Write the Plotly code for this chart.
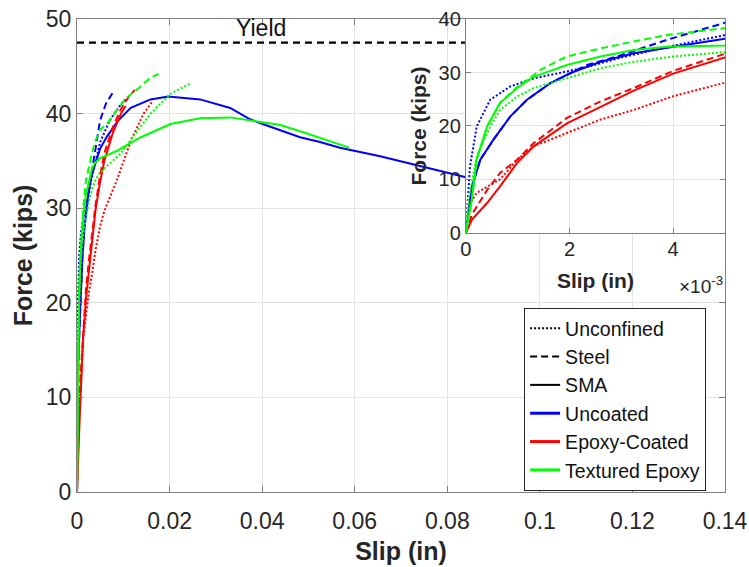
import plotly.graph_objects as go

# ---------------- data (slip in inches, force in kips) ----------------
YIELD_FORCE = 47.5
MAIN_X_RANGE = [0, 0.14]
MAIN_Y_RANGE = [0, 50]
INSET_X_RANGE = [0, 0.005]
INSET_Y_RANGE = [0, 40]
MAIN_X_TICKS = [0, 0.02, 0.04, 0.06, 0.08, 0.1, 0.12, 0.14]
MAIN_Y_TICKS = [0, 10, 20, 30, 40, 50]
INSET_X_TICKS = [0, 0.002, 0.004]
INSET_X_TICKTEXT = ["0", "2", "4"]
INSET_Y_TICKS = [0, 10, 20, 30, 40]

# Uncoated bars (blue)
unc_unconf_x = [0, 0.00008, 0.00021, 0.00047, 0.00086, 0.00131, 0.00195, 0.0024, 0.003, 0.004, 0.005, 0.0072, 0.0095, 0.0105]
unc_unconf_f = [0, 12.4, 19.9, 24.9, 27.4, 28.9, 30.2, 31.2, 32.8, 35.0, 37.0, 39.4, 41.0, 41.5]

unc_steel_x = [0, 0.00012, 0.00028, 0.00053, 0.00086, 0.00118, 0.00163, 0.00202, 0.00234, 0.00292, 0.00388, 0.005, 0.0062, 0.0077]
unc_steel_f = [0, 8.7, 13.7, 17.4, 21.8, 24.9, 28.0, 29.9, 31.4, 33.0, 36.1, 39.3, 41.0, 42.2]

unc_sma_x = [0, 0.00012, 0.00028, 0.00053, 0.00086, 0.00118, 0.00163, 0.00202, 0.0026, 0.00324, 0.00401, 0.005,
             0.0065, 0.0088, 0.0116, 0.0159, 0.0197, 0.0266, 0.0331, 0.0374, 0.0395, 0.0439, 0.0482, 0.0525,
             0.0568, 0.0655, 0.0741, 0.0838, 0.09]
unc_sma_f = [0, 8.7, 13.7, 17.4, 21.8, 24.9, 28.0, 29.9, 32.0, 33.6, 34.8, 36.3,
             37.6, 39.2, 40.6, 41.5, 41.8, 41.5, 40.6, 39.4, 39.0, 38.2, 37.5, 37.0,
             36.4, 35.5, 34.5, 33.3, 32.9]

# Epoxy-coated bars (red)
epx_unconf_x = [0, 0.00005, 0.00021, 0.00066, 0.00099, 0.00131, 0.00195, 0.0026, 0.00324, 0.00401, 0.005, 0.0059, 0.0088, 0.0116, 0.0144, 0.0159, 0.0163]
epx_unconf_f = [0, 5.0, 7.5, 10.0, 13.7, 16.2, 18.7, 21.2, 23.0, 25.6, 28.1, 29.7, 33.2, 37.1, 40.0, 41.0, 41.3]

epx_steel_x = [0, 0.00012, 0.00041, 0.00066, 0.00099, 0.00131, 0.00195, 0.0026, 0.00324, 0.004, 0.005, 0.0059, 0.0077, 0.0095, 0.0112, 0.0125]
epx_steel_f = [0, 3.5, 8.0, 11.2, 13.7, 16.8, 21.5, 24.6, 27.1, 30.3, 33.5, 35.8, 38.5, 40.5, 41.8, 42.5]

epx_sma_x = [0, 0.00012, 0.00041, 0.00066, 0.00099, 0.00131, 0.00195, 0.0026, 0.00324, 0.004, 0.005, 0.0059, 0.0077, 0.0095, 0.0105]
epx_sma_f = [0, 2.5, 5.6, 8.7, 13.1, 16.2, 20.5, 23.6, 26.6, 29.8, 32.8, 35.0, 37.9, 40.0, 40.8]

# Textured epoxy bars (green)
tex_unconf_x = [0, 0.00005, 0.00021, 0.00047, 0.00066, 0.00099, 0.00131, 0.00195, 0.0026, 0.00324, 0.00401, 0.005, 0.0065, 0.0095, 0.0131, 0.0159, 0.0202, 0.0245]
tex_unconf_f = [0, 6.2, 14.3, 19.9, 23.0, 25.5, 27.1, 28.9, 30.8, 32.0, 33.0, 33.8, 34.5, 35.8, 38.2, 40.0, 42.1, 43.2]

tex_steel_x = [0, 0.000116, 0.00021, 0.00041, 0.00066, 0.00099, 0.00131, 0.00144, 0.00195, 0.0026, 0.00324, 0.00388, 0.005, 0.0066, 0.0105, 0.0131, 0.0159, 0.0176]
tex_steel_f = [0, 6.2, 13.7, 19.9, 24.3, 27.3, 29.5, 30.5, 33.0, 34.5, 35.8, 37.0, 38.3, 39.0, 41.6, 42.6, 43.8, 44.2]

tex_sma_x = [0, 0.000116, 0.00021, 0.00041, 0.00066, 0.00099, 0.00131, 0.00195, 0.0026, 0.00324, 0.00388, 0.005,
             0.0088, 0.0138, 0.0202, 0.0266, 0.0331, 0.0374, 0.0439, 0.0497, 0.0588]
tex_sma_f = [0, 6.2, 13.7, 19.9, 24.3, 27.1, 29.2, 31.4, 33.0, 34.2, 34.8, 35.3,
             36.1, 37.5, 38.9, 39.5, 39.6, 39.3, 38.8, 37.9, 36.4]

CONF_NAMES = ["Unconfined", "Steel", "SMA"]
BAR_NAMES = ["Uncoated", "Epoxy-Coated", "Textured Epoxy"]

# ---------------- styles ----------------
FONT = "Liberation Sans, Arial, Helvetica, sans-serif"
TXT = "#262626"
AX = "#808080"
GRID = "#e3e3e3"
BAR_COLORS = {"Uncoated": "#0000ff", "Epoxy-Coated": "#ff0000", "Textured Epoxy": "#00ff00"}
DASHES = {"Unconfined": "2px,2px", "Steel": "7px,4px", "SMA": "solid"}
LW = 2

series = [
    ("Uncoated", "Unconfined", unc_unconf_x, unc_unconf_f),
    ("Uncoated", "Steel", unc_steel_x, unc_steel_f),
    ("Uncoated", "SMA", unc_sma_x, unc_sma_f),
    ("Epoxy-Coated", "Unconfined", epx_unconf_x, epx_unconf_f),
    ("Epoxy-Coated", "Steel", epx_steel_x, epx_steel_f),
    ("Epoxy-Coated", "SMA", epx_sma_x, epx_sma_f),
    ("Textured Epoxy", "Unconfined", tex_unconf_x, tex_unconf_f),
    ("Textured Epoxy", "Steel", tex_steel_x, tex_steel_f),
    ("Textured Epoxy", "SMA", tex_sma_x, tex_sma_f),
]

fig = go.Figure()

# yield line (main axes)
fig.add_trace(go.Scatter(x=MAIN_X_RANGE, y=[YIELD_FORCE, YIELD_FORCE], mode="lines",
                         line=dict(color="black", width=2.2, dash="7px,5px"),
                         showlegend=False, hoverinfo="skip", xaxis="x", yaxis="y"))

# data in main axes and inset
for bar, conf, xs, fs in series:
    for xa, ya in (("x", "y"), ("x2", "y2")):
        fig.add_trace(go.Scatter(x=xs, y=fs, mode="lines",
                                 line=dict(color=BAR_COLORS[bar], width=LW, dash=DASHES[conf]),
                                 name=f"{bar} {conf}", showlegend=False, xaxis=xa, yaxis=ya))

# legend entries
for conf in CONF_NAMES:
    fig.add_trace(go.Scatter(x=[None], y=[None], mode="lines", name=conf,
                             line=dict(color="black", width=LW, dash=DASHES[conf]),
                             xaxis="x", yaxis="y"))
for bar in BAR_NAMES:
    fig.add_trace(go.Scatter(x=[None], y=[None], mode="lines", name=bar,
                             line=dict(color=BAR_COLORS[bar], width=3),
                             xaxis="x", yaxis="y"))

common_axis = dict(showline=True, linecolor=AX, linewidth=1, mirror="ticks", ticks="inside",
                   tickcolor=AX, showgrid=True, gridcolor=GRID, gridwidth=1, zeroline=False,
                   automargin=False, ticklabeloverflow="allow")

fig.update_layout(
    template="none",
    width=749, height=567,
    margin=dict(l=77, r=24, t=19, b=75, autoexpand=False),
    paper_bgcolor="white", plot_bgcolor="white",
    font=dict(family=FONT, color=TXT),
    xaxis=dict(domain=[0, 1], range=MAIN_X_RANGE, tickvals=MAIN_X_TICKS, ticklen=6,
               tickfont=dict(size=23, color=TXT), ticklabelstandoff=8,
               title=dict(text="<b>Slip (in)</b>", font=dict(size=25, color=TXT), standoff=9),
               anchor="y", **common_axis),
    yaxis=dict(domain=[0, 1], range=MAIN_Y_RANGE, tickvals=MAIN_Y_TICKS, ticklen=6,
               tickfont=dict(size=23, color=TXT), ticklabelstandoff=0,
               title=dict(text="<b>Force (kips)</b>", font=dict(size=25, color=TXT), standoff=6),
               anchor="x", **common_axis),
    xaxis2=dict(domain=[0.6, 1.0], range=INSET_X_RANGE, tickvals=INSET_X_TICKS, ticktext=INSET_X_TICKTEXT,
                ticklen=5, tickfont=dict(size=20, color=TXT), ticklabelstandoff=-2,
                title=dict(text="<b>Slip (in)</b>", font=dict(size=21, color=TXT), standoff=14),
                anchor="y2", **common_axis),
    yaxis2=dict(domain=[0.5476, 1.0], range=INSET_Y_RANGE, tickvals=INSET_Y_TICKS,
                ticklen=5, tickfont=dict(size=20, color=TXT), ticklabelstandoff=0,
                title=dict(text="<b>Force (kips)</b>", font=dict(size=21, color=TXT), standoff=6),
                anchor="x2", **common_axis),
    legend=dict(x=0.69, y=0.389, xanchor="left", yanchor="top", bgcolor="white",
                bordercolor=TXT, borderwidth=1, font=dict(size=19.5, color="#111111", family=FONT),
                traceorder="normal", itemwidth=30),
    annotations=[
        dict(text="Yield", x=0.0398, y=YIELD_FORCE + 1.55, xref="x", yref="y", showarrow=False,
             font=dict(size=23, color="#111111"), xanchor="center", yanchor="middle"),
        dict(text="×10<sup>-3</sup>", x=1.0, y=0.437, xref="paper", yref="paper", showarrow=False,
             font=dict(size=19, color=TXT), xanchor="right", yanchor="middle"),
    ],
)

# remove the default page margin so the figure fills the window exactly
fig.write_html("out.html", config={"displayModeBar": False},
               post_script="document.body.style.margin='0';document.body.style.overflow='hidden';")
